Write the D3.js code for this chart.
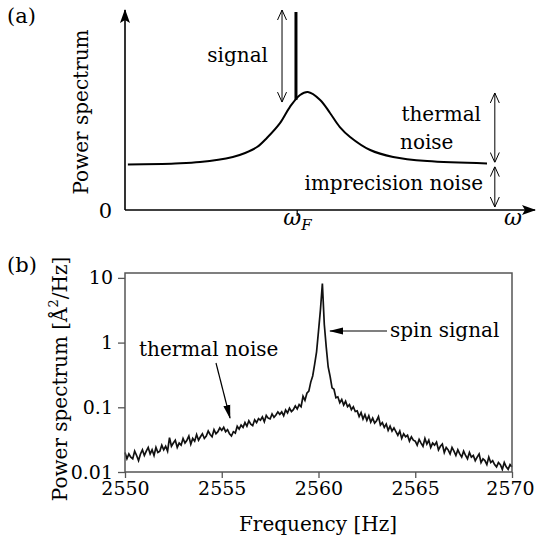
<!DOCTYPE html>
<html>
<head>
<meta charset="utf-8">
<script src="https://cdn.jsdelivr.net/npm/d3@7"></script>
<style>
  body { margin: 0; background: #fff; }
  text { font-family: "DejaVu Serif", "DejaVu Sans", serif; fill: #000; }
</style>
</head>
<body>
<svg id="chart" width="536" height="544"></svg>
<script>
// panel (a): schematic spectrum, arbitrary units
const omegaA = [0.7, 12.2, 18.3, 26.3, 29.3, 32.2, 34.6, 37.8, 40.2, 42.7, 44.6, 47.6, 50.0, 52.4, 54.9, 59.8, 65.4, 73.7, 88.3];
const powerA = [23.0, 23.5, 24.2, 26.8, 28.8, 31.8, 36.4, 43.9, 52.0, 58.1, 59.6, 55.6, 49.0, 41.9, 36.9, 30.3, 26.8, 24.7, 23.5];
const omegaF = 42.0;
const signalA = { omega: 41.7, from: 55.6, to: 100 };

// panel (b): measured spectrum, 0.1 Hz steps from 2550 to 2570 Hz
const freqStart = 2550, freqStep = 0.1;
const spectrum = [
  0.020, 0.016, 0.019, 0.017, 0.016, 0.021, 0.018, 0.015, 0.019, 0.022,
  0.018, 0.021, 0.024, 0.019, 0.022, 0.018, 0.024, 0.020, 0.021, 0.026,
  0.022, 0.025, 0.021, 0.034, 0.025, 0.028, 0.031, 0.024, 0.028, 0.026,
  0.033, 0.028, 0.031, 0.036, 0.027, 0.033, 0.030, 0.038, 0.031, 0.035,
  0.039, 0.033, 0.036, 0.043, 0.038, 0.035, 0.045, 0.039, 0.042, 0.048,
  0.044, 0.049, 0.042, 0.045, 0.039, 0.036, 0.042, 0.040, 0.051, 0.046,
  0.053, 0.049, 0.058, 0.051, 0.062, 0.055, 0.052, 0.064, 0.058, 0.067,
  0.063, 0.071, 0.060, 0.075, 0.068, 0.066, 0.079, 0.070, 0.076, 0.085,
  0.078, 0.085, 0.074, 0.091, 0.082, 0.097, 0.086, 0.092, 0.105, 0.094,
  0.110, 0.102, 0.148, 0.128, 0.165, 0.178, 0.245, 0.305, 0.460, 0.720,
  1.500, 3.200, 8.200, 1.900, 0.850, 0.420, 0.300, 0.200, 0.190, 0.140,
  0.145, 0.118, 0.132, 0.108, 0.124, 0.102, 0.110, 0.092, 0.102, 0.086,
  0.088, 0.072, 0.083, 0.066, 0.077, 0.063, 0.074, 0.059, 0.068, 0.057,
  0.062, 0.072, 0.053, 0.058, 0.049, 0.055, 0.044, 0.051, 0.043, 0.048,
  0.042, 0.037, 0.043, 0.033, 0.039, 0.035, 0.037, 0.030, 0.035, 0.031,
  0.030, 0.026, 0.032, 0.028, 0.025, 0.033, 0.027, 0.031, 0.024, 0.028,
  0.026, 0.029, 0.022, 0.025, 0.027, 0.020, 0.024, 0.022, 0.019, 0.024,
  0.021, 0.018, 0.022, 0.019, 0.017, 0.021, 0.018, 0.016, 0.020, 0.017,
  0.018, 0.015, 0.017, 0.019, 0.014, 0.016, 0.015, 0.013, 0.017, 0.014,
  0.015, 0.013, 0.012, 0.014, 0.013, 0.011, 0.014, 0.012, 0.011, 0.013,
  0.012
];
const xTicksB = [2550, 2555, 2560, 2565, 2570];
const yTicksB = [0.01, 0.1, 1, 10];

const svg = d3.select("#chart");
const defs = svg.append("defs");

defs.append("marker")
  .attr("id", "vopen")
  .attr("viewBox", "0 0 10 10")
  .attr("refX", 10).attr("refY", 5)
  .attr("markerWidth", 10).attr("markerHeight", 10)
  .attr("markerUnits", "userSpaceOnUse")
  .attr("orient", "auto-start-reverse")
  .append("path")
  .attr("d", "M0,0.5 L10,5 L0,9.5")
  .attr("fill", "none")
  .attr("stroke", "#000")
  .attr("stroke-width", 1);

defs.append("marker")
  .attr("id", "axhead")
  .attr("viewBox", "0 0 14 10")
  .attr("refX", 13).attr("refY", 5)
  .attr("markerWidth", 14).attr("markerHeight", 10)
  .attr("markerUnits", "userSpaceOnUse")
  .attr("orient", "auto")
  .append("path")
  .attr("d", "M0,0 L14,5 L0,10 L3,5 Z")
  .attr("fill", "#000");

defs.append("marker")
  .attr("id", "bhead")
  .attr("viewBox", "0 0 14 8")
  .attr("refX", 13).attr("refY", 4)
  .attr("markerWidth", 14).attr("markerHeight", 8)
  .attr("markerUnits", "userSpaceOnUse")
  .attr("orient", "auto")
  .append("path")
  .attr("d", "M0,0.5 L14,4 L0,7.5 Z")
  .attr("fill", "#000");

// ---------- panel (a) ----------
const xA = d3.scaleLinear().domain([0, 100]).range([125, 535]);
const yA = d3.scaleLinear().domain([0, 100]).range([210, 12]);
const gA = svg.append("g");

gA.append("text").attr("x", 7).attr("y", 23).attr("font-size", 21).text("(a)");

// axes with arrow heads
gA.append("line")
  .attr("x1", xA(0)).attr("y1", yA(0)).attr("x2", xA(100)).attr("y2", yA(0))
  .attr("stroke", "#000").attr("stroke-width", 1.6)
  .attr("marker-end", "url(#axhead)");
gA.append("line")
  .attr("x1", xA(0)).attr("y1", yA(0)).attr("x2", xA(0)).attr("y2", yA(101))
  .attr("stroke", "#000").attr("stroke-width", 1.6)
  .attr("marker-end", "url(#axhead)");
gA.append("line")
  .attr("x1", xA(omegaF)).attr("x2", xA(omegaF))
  .attr("y1", yA(0)).attr("y2", yA(0) + 6)
  .attr("stroke", "#000").attr("stroke-width", 1.2);

gA.append("text").attr("x", xA(0) - 13).attr("y", yA(0) + 8)
  .attr("text-anchor", "end").attr("font-size", 21).text("0");

const wF = gA.append("text").attr("x", xA(omegaF) - 14).attr("y", 225).attr("font-size", 22);
wF.append("tspan").attr("font-style", "italic").text("ω");
wF.append("tspan").attr("font-style", "italic").attr("font-size", 15).attr("dy", 5).text("F");
gA.append("text").attr("x", 504).attr("y", 225)
  .attr("font-size", 22).attr("font-style", "italic").text("ω");

gA.append("text")
  .attr("transform", "translate(88,112) rotate(-90)")
  .attr("text-anchor", "middle").attr("font-size", 20)
  .text("Power spectrum");

// curve
const lineA = d3.line()
  .x((d, i) => xA(omegaA[i]))
  .y((d) => yA(d))
  .curve(d3.curveCatmullRom.alpha(0.5));
gA.append("path")
  .attr("d", lineA(powerA))
  .attr("fill", "none")
  .attr("stroke", "#000")
  .attr("stroke-width", 2);

// signal spike
gA.append("line")
  .attr("x1", xA(signalA.omega)).attr("x2", xA(signalA.omega))
  .attr("y1", yA(signalA.from)).attr("y2", yA(signalA.to))
  .attr("stroke", "#000").attr("stroke-width", 3);

// double arrows
const dbl = [
  { x: 38.3, y1: 101, y2: 54.5 },
  { x: 90.2, y1: 59.1, y2: 24.0 },
  { x: 90.2, y1: 21.9, y2: 1.5 }
];
gA.selectAll(".dbl").data(dbl).join("line")
  .attr("class", "dbl")
  .attr("x1", (d) => xA(d.x)).attr("x2", (d) => xA(d.x))
  .attr("y1", (d) => yA(d.y1)).attr("y2", (d) => yA(d.y2))
  .attr("stroke", "#000").attr("stroke-width", 1)
  .attr("marker-start", "url(#vopen)")
  .attr("marker-end", "url(#vopen)");

gA.append("text").attr("x", 268).attr("y", 62).attr("text-anchor", "end")
  .attr("font-size", 20).text("signal");
gA.append("text").attr("x", 481).attr("y", 121).attr("text-anchor", "end")
  .attr("font-size", 20).text("thermal");
gA.append("text").attr("x", 400).attr("y", 149)
  .attr("font-size", 20).text("noise");
gA.append("text").attr("x", 483).attr("y", 190).attr("text-anchor", "end")
  .attr("font-size", 20).text("imprecision noise");

// ---------- panel (b) ----------
const xB = d3.scaleLinear().domain([2550, 2570]).range([125, 512]);
const yB = d3.scaleLog().domain([0.01, 11.9]).range([472, 273]);
const gB = svg.append("g");

gB.append("text").attr("x", 7).attr("y", 272).attr("font-size", 21).text("(b)");

const lineB = d3.line()
  .x((d, i) => xB(freqStart + i * freqStep))
  .y((d) => yB(d));
gB.append("path")
  .attr("d", lineB(spectrum))
  .attr("fill", "none")
  .attr("stroke", "#111")
  .attr("stroke-width", 1.7)
  .attr("stroke-linejoin", "miter");

gB.append("rect")
  .attr("x", xB(2550)).attr("y", yB(11.9))
  .attr("width", xB(2570) - xB(2550))
  .attr("height", yB(0.01) - yB(11.9))
  .attr("fill", "none")
  .attr("stroke", "#555")
  .attr("stroke-width", 1.5);

const axX = gB.append("g")
  .attr("transform", `translate(0,${yB(0.01)})`)
  .call(d3.axisBottom(xB).tickValues(xTicksB).tickSize(6).tickPadding(4).tickFormat(d3.format("d")));
const axY = gB.append("g")
  .attr("transform", `translate(${xB(2550)},0)`)
  .call(d3.axisLeft(yB).tickValues(yTicksB).tickSize(7).tickPadding(5).tickFormat((d) => String(d)));
[axX, axY].forEach((ax) => {
  ax.select(".domain").remove();
  ax.selectAll(".tick line").attr("stroke", "#555").attr("stroke-width", 1.3);
  ax.selectAll(".tick text")
    .attr("font-family", "DejaVu Serif, DejaVu Sans, serif")
    .attr("font-size", 19)
    .attr("fill", "#000");
});
axX.selectAll(".tick text").filter((d) => d === 2570).attr("dx", -2);

gB.append("text").attr("x", 318).attr("y", 531).attr("text-anchor", "middle")
  .attr("font-size", 20).text("Frequency [Hz]");

const yl = gB.append("text")
  .attr("transform", "translate(67,379) rotate(-90)")
  .attr("text-anchor", "middle").attr("font-size", 20);
yl.append("tspan").text("Power spectrum [Å");
yl.append("tspan").attr("font-size", 13).attr("dy", -9).text("2");
yl.append("tspan").attr("dy", 9).text("/Hz]");

// annotations
gB.append("text").attr("x", 139).attr("y", 356).attr("font-size", 20).text("thermal noise");
gB.append("line")
  .attr("x1", 216).attr("y1", 363).attr("x2", 230).attr("y2", 418)
  .attr("stroke", "#000").attr("stroke-width", 1.2)
  .attr("marker-end", "url(#bhead)");

gB.append("text").attr("x", 390).attr("y", 337).attr("font-size", 20).text("spin signal");
gB.append("line")
  .attr("x1", 387).attr("y1", 331).attr("x2", 330).attr("y2", 331)
  .attr("stroke", "#000").attr("stroke-width", 1.2)
  .attr("marker-end", "url(#bhead)");
</script>
</body>
</html>
